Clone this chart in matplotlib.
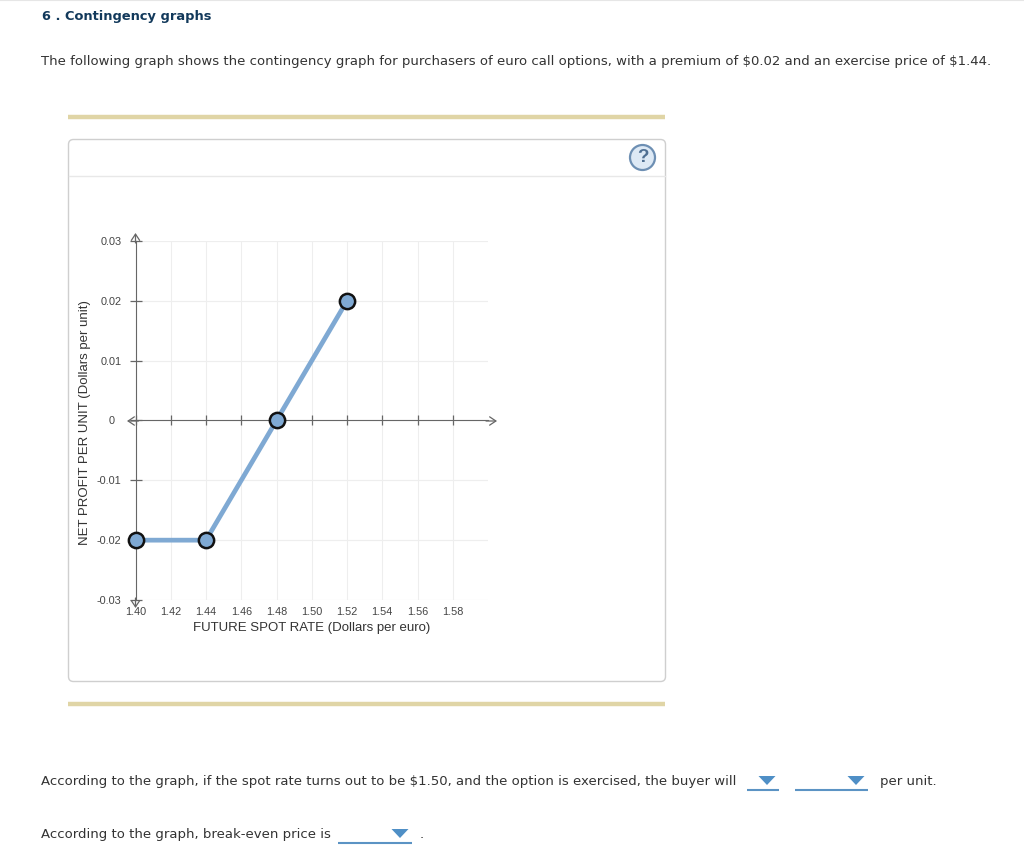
import matplotlib
matplotlib.use('Agg')
import matplotlib.pyplot as plt
from matplotlib.patches import FancyBboxPatch, Circle, Polygon
from matplotlib.transforms import ScaledTranslation

spot = [1.40, 1.44, 1.48, 1.52]
profit = [-0.02, -0.02, 0.0, 0.02]
x_ticks = [1.40, 1.42, 1.44, 1.46, 1.48, 1.50, 1.52, 1.54, 1.56, 1.58]
y_ticks = [-0.03, -0.02, -0.01, 0.0, 0.01, 0.02, 0.03]
x_labels = ['1.40', '1.42', '1.44', '1.46', '1.48', '1.50', '1.52', '1.54', '1.56', '1.58']
y_labels = ['-0.03', '-0.02', '-0.01', '0', '0.01', '0.02', '0.03']

W, H = 1024, 855
BODY = ['DejaVu Sans']
CHART = ['Liberation Sans']
TEXT = '#333333'
LINE = '#7fa9d3'

plt.rcParams['text.parse_math'] = False  # dollar signs are plain text here

fig = plt.figure(figsize=(W / 100, H / 100), dpi=100)

# page background, in pixel coordinates
bg = fig.add_axes([0, 0, 1, 1])
bg.set_xlim(0, W)
bg.set_ylim(H, 0)
bg.axis('off')

bg.plot([0, W], [0.5, 0.5], color='#e6e6e6', lw=1.5)
bg.text(42, 16.5, '6 . Contingency graphs', fontsize=9.4, fontweight='bold',
        color='#12395b', family=BODY, va='center')
bg.text(41, 62, 'The following graph shows the contingency graph for purchasers of euro call options, '
        'with a premium of $0.02 and an exercise price of $1.44.',
        fontsize=9.58, color=TEXT, family=BODY, va='center')

bg.plot([68, 665], [117, 117], color='#e0d5a6', lw=3.2, solid_capstyle='butt')
bg.plot([68, 665], [704, 704], color='#e0d5a6', lw=3.2, solid_capstyle='butt')

panel = FancyBboxPatch((68.5, 139.5), 597, 542, boxstyle='round,pad=0,rounding_size=5',
                       fc='white', ec='#cfcfcf', lw=1)
bg.add_patch(panel)
bg.plot([69, 665], [176, 176], color='#e8e8e8', lw=1)

bg.add_patch(Circle((642.5, 157.5), 12.5, fc='#dde9f5', ec='#6d8fb3', lw=1.6))
bg.text(642.5, 158, '?', fontsize=13.5, fontweight='bold', color='#4f6f92',
        family=CHART, ha='center', va='center')

bg.text(41, 781, 'According to the graph, if the spot rate turns out to be $1.50, '
        'and the option is exercised, the buyer will', fontsize=9.58, color=TEXT,
        family=BODY, va='center')
bg.text(880, 781, 'per unit.', fontsize=9.58, color=TEXT, family=BODY, va='center')
bg.text(41, 834, 'According to the graph, break-even price is', fontsize=9.58,
        color=TEXT, family=BODY, va='center')
bg.text(420, 834, '.', fontsize=9.58, color=TEXT, family=BODY, va='center')

# the three dropdowns: underline plus small triangle
for x0, x1, y, tx in [(747, 779, 790, 767), (795, 868, 790, 856), (338, 412, 843, 400)]:
    bg.plot([x0, x1], [y, y], color='#5b93c4', lw=1.5, solid_capstyle='butt')
    bg.add_patch(Polygon([(tx - 8.5, y - 14), (tx + 8.5, y - 14), (tx, y - 5)],
                         closed=True, fc='#4f8fc6', ec='none'))

# the graph itself
left, right = 135.5, 488
top, bottom = 241, 600
ax = fig.add_axes([left / W, 1 - bottom / H, (right - left) / W, (bottom - top) / H])
ax.patch.set_alpha(0)
ax.set_xlim(1.40, 1.60)
ax.set_ylim(-0.03, 0.03)

for s in ['top', 'right']:
    ax.spines[s].set_visible(False)
ax.spines['bottom'].set_position(('data', 0))
ax.spines['left'].set_color('#666666')
ax.spines['bottom'].set_color('#666666')

ax.set_xticks(x_ticks)
ax.set_xticklabels(x_labels, family=CHART, fontsize=7.8, color='#444444')
ax.set_yticks(y_ticks)
ax.set_yticklabels(y_labels, family=CHART, fontsize=7.8, color='#444444')
ax.tick_params(axis='x', direction='inout', length=7, width=0.9, color='#666666', pad=131)
ax.tick_params(axis='y', direction='inout', length=8, width=0.9, color='#666666', pad=6)
ax.grid(True, color='#eeeeee', lw=0.8)
ax.set_axisbelow(True)

# the 0 label sits further left than the others
zero_label = ax.get_yticklabels()[3]
zero_label.set_transform(zero_label.get_transform() + ScaledTranslation(-7 / 100, 0, fig.dpi_scale_trans))

# grid runs on to the right edge of the plot
for v in y_ticks:
    ax.axhline(v, color='#eeeeee', lw=0.8, zorder=0.5)

arrow = dict(arrowstyle='->,head_length=0.45,head_width=0.3', color='#666666', lw=0.9,
             shrinkA=0, shrinkB=0)
ax.annotate('', xy=(497, H - 421), xytext=(right - 2, H - 421), xycoords='figure pixels',
            textcoords='figure pixels', arrowprops=arrow)
ax.annotate('', xy=(127, H - 421), xytext=(left + 3, H - 421), xycoords='figure pixels',
            textcoords='figure pixels', arrowprops=arrow)
ax.annotate('', xy=(left, H - 233), xytext=(left, H - 243), xycoords='figure pixels',
            textcoords='figure pixels', arrowprops=arrow)
ax.annotate('', xy=(left, H - 608), xytext=(left, H - 598), xycoords='figure pixels',
            textcoords='figure pixels', arrowprops=arrow)

ax.plot(spot, profit, color=LINE, lw=3.4, marker='o', markersize=11,
        markerfacecolor=LINE, markeredgecolor='#111111', markeredgewidth=1.8,
        clip_on=False, zorder=5)

fig.text(312 / W, 1 - 627.5 / H, 'FUTURE SPOT RATE (Dollars per euro)', family=CHART,
         fontsize=9.5, color='#333333', ha='center', va='center')
fig.text(85 / W, 1 - 423 / H, 'NET PROFIT PER UNIT (Dollars per unit)', family=CHART,
         fontsize=9.5, color='#333333', ha='center', va='center', rotation=90)

fig.savefig('out.png', dpi=100)
